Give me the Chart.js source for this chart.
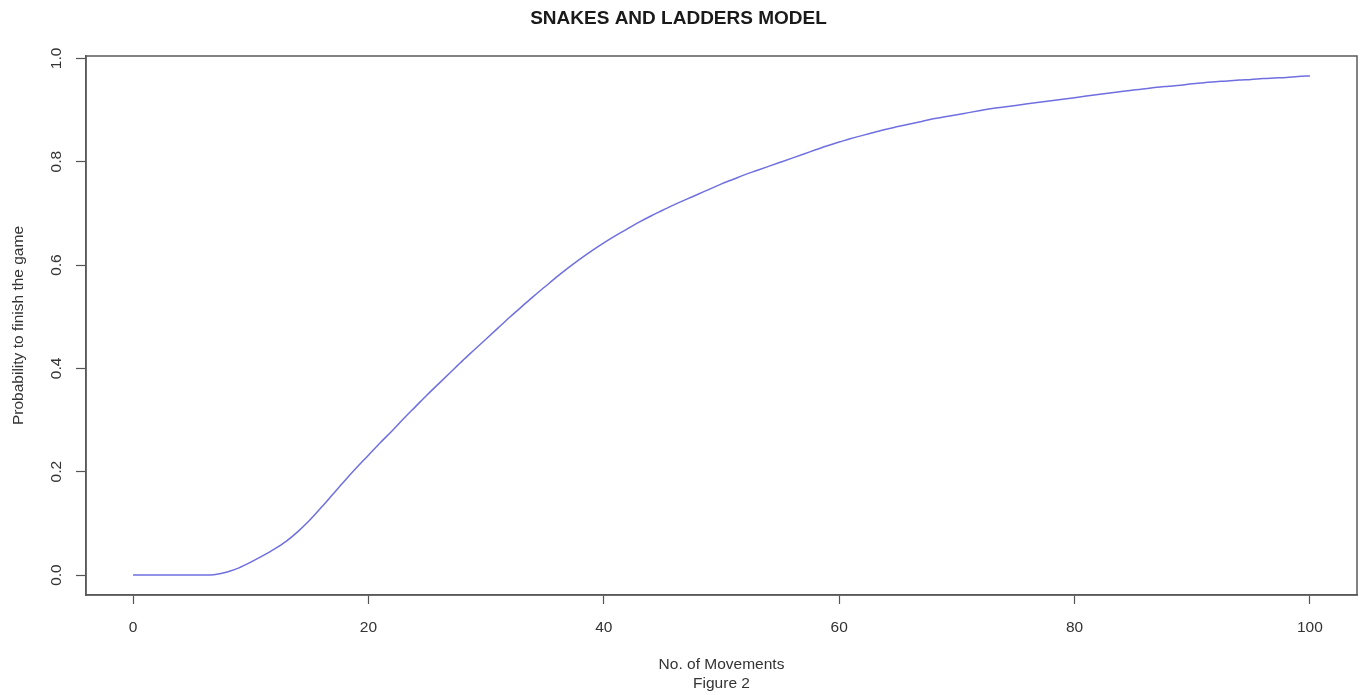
<!DOCTYPE html>
<html>
<head>
<meta charset="utf-8">
<script src="https://cdn.jsdelivr.net/npm/chart.js@4/dist/chart.umd.min.js"></script>
<style>
  html, body { margin: 0; padding: 0; background: #ffffff; }
  #wrap { width: 1360px; height: 695px; position: relative; }
</style>
</head>
<body>
<div id="wrap"><canvas id="c" width="1360" height="695"></canvas></div>
<script>
const chartTitle = "SNAKES AND LADDERS MODEL";
const xTitle = ["No. of Movements", "Figure 2"];
const yTitle = "Probability to finish the game";

const movements = [0,1,2,3,4,5,6,7,8,9,10,11,12,13,14,15,16,17,18,19,20,
  21,22,23,24,25,26,27,28,29,30,31,32,33,34,35,36,37,38,39,40,
  41,42,43,44,45,46,47,48,49,50,51,52,53,54,55,56,57,58,59,60,
  61,62,63,64,65,66,67,68,69,70,71,72,73,74,75,76,77,78,79,80,
  81,82,83,84,85,86,87,88,89,90,91,92,93,94,95,96,97,98,99,100];

const probability = [0,0,0,0,0,0,0,0.001,0.006,0.014,0.025,0.037,0.050,0.065,0.084,0.106,0.131,0.157,0.183,0.208,0.232,
  0.256,0.279,0.303,0.326,0.349,0.371,0.393,0.415,0.436,0.457,0.478,0.499,0.519,0.539,0.558,0.577,0.595,0.612,0.628,0.643,
  0.657,0.670,0.683,0.695,0.706,0.717,0.727,0.737,0.747,0.757,0.766,0.775,0.783,0.791,0.799,0.807,0.815,0.823,0.831,0.838,
  0.845,0.851,0.857,0.863,0.868,0.873,0.878,0.883,0.887,0.891,0.895,0.899,0.903,0.906,0.909,0.912,0.915,0.918,0.921,0.924,
  0.927,0.930,0.933,0.936,0.939,0.941,0.944,0.946,0.948,0.951,0.953,0.955,0.956,0.958,0.959,0.961,0.962,0.963,0.965,0.966];

const xTicks = [0, 20, 40, 60, 80, 100];
const yTicks = [0, 0.2, 0.4, 0.6, 0.8, 1.0];

const FONT = '"Liberation Sans", Arial, Helvetica, sans-serif';

const framePlugin = {
  id: 'frame',
  afterDraw(chart) {
    const a = chart.chartArea, ctx = chart.ctx;
    ctx.save();
    ctx.strokeStyle = '#5a5a5a';
    ctx.lineWidth = 1.5;
    ctx.strokeRect(a.left, a.top, a.right - a.left, a.bottom - a.top);
    ctx.restore();
  }
};

const points = movements.map((m, i) => ({ x: m, y: probability[i] }));

new Chart(document.getElementById('c'), {
  type: 'line',
  data: {
    datasets: [{
      data: points,
      borderColor: '#6f6fe0',
      borderWidth: 1.5,
      pointRadius: 0,
      cubicInterpolationMode: 'monotone',
      fill: false
    }]
  },
  plugins: [framePlugin],
  options: {
    responsive: false,
    animation: false,
    devicePixelRatio: 1,
    layout: { padding: { left: 0, right: 3, top: 0, bottom: 0 } },
    plugins: {
      legend: { display: false },
      tooltip: { enabled: false },
      title: {
        display: true,
        text: chartTitle,
        color: '#1a1a1a',
        font: { family: FONT, size: 19, weight: 'bold', lineHeight: 1.2 },
        padding: { top: 7, bottom: 26.2 }
      }
    },
    scales: {
      x: {
        type: 'linear',
        min: -4,
        max: 104,
        afterBuildTicks(scale) { scale.ticks = xTicks.map(v => ({ value: v })); },
        afterFit(scale) { scale.height = 100; },
        grid: { display: true, drawOnChartArea: false, drawTicks: true, tickLength: 9, tickColor: '#555', tickWidth: 1.2 },
        border: { display: true, color: '#5a5a5a', width: 1.5 },
        ticks: {
          color: '#333',
          font: { family: FONT, size: 15.5 },
          padding: 14,
          maxRotation: 0,
          autoSkip: false,
          callback: v => String(v)
        },
        title: {
          display: true,
          text: xTitle,
          color: '#333',
          font: { family: FONT, size: 15.5, lineHeight: 1.23 },
          padding: { top: 0, bottom: 1.5 }
        }
      },
      y: {
        type: 'linear',
        min: -0.0386,
        max: 1.0046,
        afterBuildTicks(scale) { scale.ticks = yTicks.map(v => ({ value: v })); },
        afterFit(scale) { scale.width = 86; },
        grid: { display: true, drawOnChartArea: false, drawTicks: true, tickLength: 10, tickColor: '#555', tickWidth: 1.2 },
        border: { display: true, color: '#5a5a5a', width: 1.5 },
        ticks: {
          color: '#333',
          font: { family: FONT, size: 15.5 },
          padding: 9,
          minRotation: 90,
          maxRotation: 90,
          crossAlign: 'center',
          autoSkip: false,
          callback: v => Number(v).toFixed(1)
        },
        title: {
          display: true,
          text: yTitle,
          color: '#333',
          font: { family: FONT, size: 15.5, lineHeight: 1.2 },
          padding: { top: 9, bottom: 0 }
        }
      }
    }
  }
});
</script>
</body>
</html>
